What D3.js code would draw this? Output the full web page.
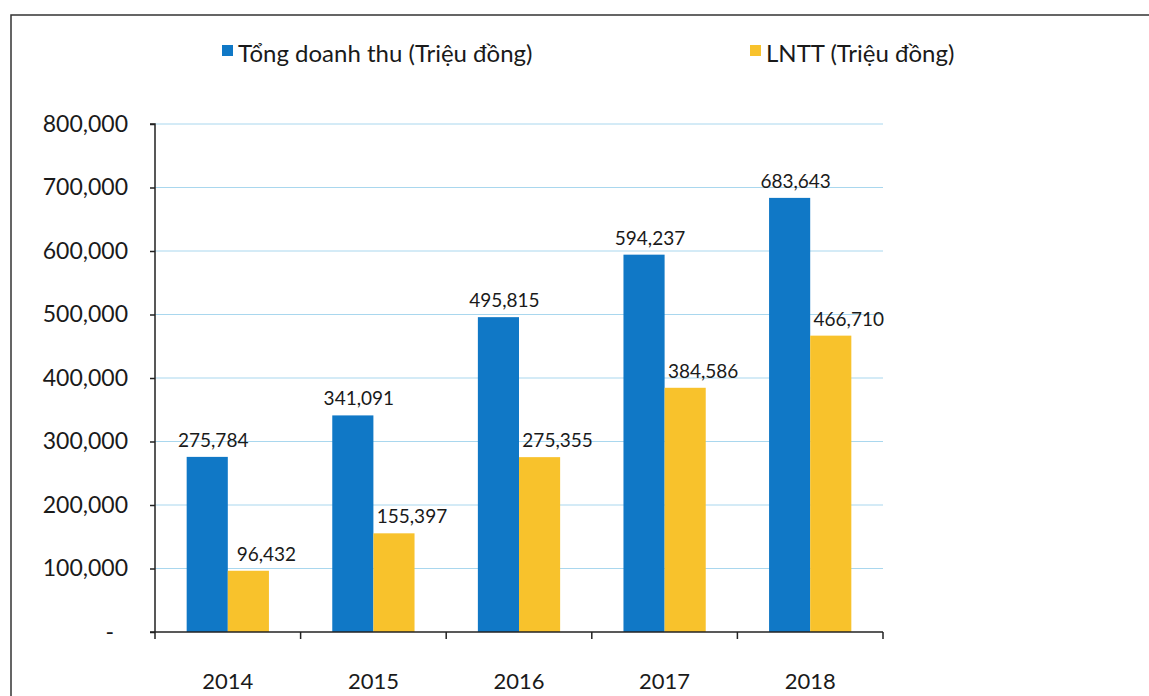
<!DOCTYPE html>
<meta charset="utf-8">
<style>
  body { margin: 0; background: white; }
  text { font-family: Lato, "Open Sans", sans-serif; fill: #1a1a1a; }
  .grid line { stroke: #a9d7ee; stroke-width: 1; }
  .axis path, .axis line { stroke: #222; stroke-width: 1.5; }
</style>
<html>
<body>
<script src="https://d3js.org/d3.v7.min.js"></script>
<script>
  var years = ["2014", "2015", "2016", "2017", "2018"];
  var revenue = [275784, 341091, 495815, 594237, 683643];
  var profit = [96432, 155397, 275355, 384586, 466710];
  var seriesNames = ["Tổng doanh thu (Triệu đồng)", "LNTT (Triệu đồng)"];
  var yTicks = [0, 100000, 200000, 300000, 400000, 500000, 600000, 700000, 800000];

  var width = 1149, height = 696;
  var colors = ["#1078c6", "#f8c22c"];

  var svg = d3.select("body").append("svg")
    .attr("width", width)
    .attr("height", height);

  // frame of the scanned page
  svg.append("path")
    .attr("d", "M11,696 L11,15 L1149,15")
    .attr("fill", "none")
    .attr("stroke", "#333")
    .attr("stroke-width", 1.5);

  var x = d3.scaleBand()
    .domain(years)
    .range([155, 883])
    .paddingInner(0.435)
    .paddingOuter(0.2175);

  var x1 = d3.scaleBand()
    .domain([0, 1])
    .range([0, x.bandwidth()]);

  var y = d3.scaleLinear()
    .domain([0, 800000])
    .range([632, 124]);

  var fmt = d3.format(",");

  // grid
  svg.append("g").attr("class", "grid")
    .selectAll("line")
    .data(yTicks.slice(1))
    .enter().append("line")
    .attr("x1", 155).attr("x2", 883)
    .attr("y1", d => y(d)).attr("y2", d => y(d));

  // y axis
  var yAxis = d3.axisLeft(y)
    .tickValues(yTicks)
    .tickSize(5)
    .tickPadding(22)
    .tickFormat(d => d === 0 ? "-" : fmt(d));

  var gy = svg.append("g").attr("class", "axis")
    .attr("transform", "translate(155,0)")
    .call(yAxis);
  gy.select(".domain").attr("d", "M-5,124H0V632");
  gy.selectAll("text").style("font-size", "23px");
  gy.selectAll(".tick").filter(d => d === 0).select("text").attr("dx", -14);

  // bars
  var series = [revenue, profit];
  series.forEach(function (vals, s) {
    svg.append("g").selectAll("rect")
      .data(vals)
      .enter().append("rect")
      .attr("x", (d, i) => x(years[i]) + x1(s))
      .attr("width", x1.bandwidth())
      .attr("y", d => y(d))
      .attr("height", d => y(0) - y(d))
      .attr("fill", colors[s]);

    svg.append("g").selectAll("text")
      .data(vals)
      .enter().append("text")
      .attr("x", (d, i) => x(years[i]) + x1(s) + x1.bandwidth() / 2 + (s === 0 ? 6 : 18))
      .attr("y", d => y(d) - 10)
      .attr("text-anchor", "middle")
      .style("font-size", "19px")
      .text(d => fmt(d));
  });

  // x axis
  var gx = svg.append("g").attr("class", "axis");
  gx.append("line")
    .attr("x1", 150).attr("x2", 883)
    .attr("y1", y(0)).attr("y2", y(0));
  var bounds = [155].concat(years.map(d => x(d) + x.bandwidth() + x.step() * x.paddingInner() / 2));
  bounds[bounds.length - 1] = 883;
  gx.selectAll(".xt")
    .data(bounds)
    .enter().append("line")
    .attr("x1", d => d).attr("x2", d => d)
    .attr("y1", y(0)).attr("y2", y(0) + 7);
  svg.append("g").selectAll("text")
    .data(years)
    .enter().append("text")
    .attr("x", d => x(d) + x.bandwidth() / 2)
    .attr("y", 689)
    .attr("text-anchor", "middle")
    .style("font-size", "22px")
    .text(d => d);

  // legend
  var legendX = [222, 750];
  var lg = svg.append("g").selectAll("g")
    .data(seriesNames)
    .enter().append("g")
    .attr("transform", (d, i) => `translate(${legendX[i]},45)`);
  lg.append("rect")
    .attr("width", 11).attr("height", 11)
    .attr("fill", (d, i) => colors[i]);
  lg.append("text")
    .attr("x", 16).attr("y", 17)
    .style("font-size", "24px")
    .text(d => d);
</script>
</body>
</html>
